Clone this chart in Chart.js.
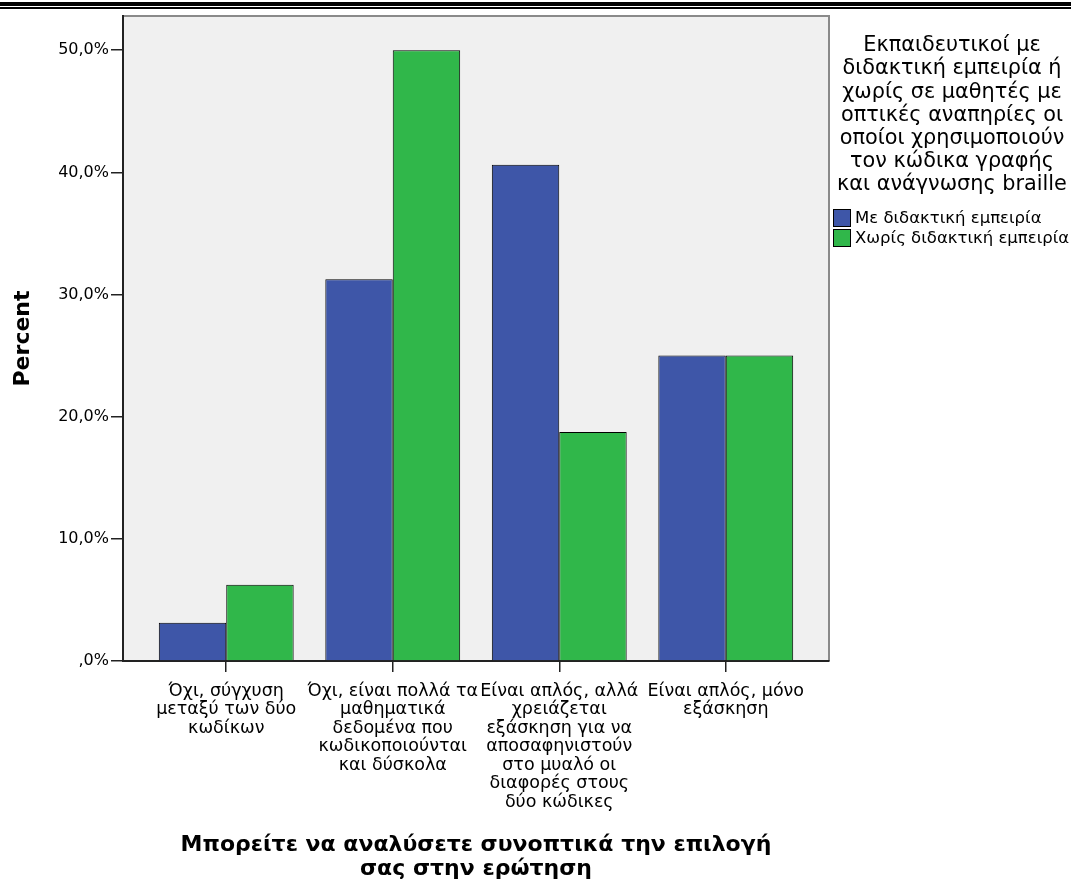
<!DOCTYPE html>
<html>
<head>
<meta charset="utf-8">
<script src="https://cdn.jsdelivr.net/npm/chart.js@4.4.1/dist/chart.umd.min.js"></script>
<style>
  html, body { margin: 0; padding: 0; background: #fff; }
  #wrap { position: relative; width: 1071px; height: 884px; }
  .rule { position: absolute; left: 0; width: 1071px; background: #000; }
</style>
</head>
<body>
<div id="wrap">
  <div class="rule" style="top:2px;height:4px"></div>
  <div class="rule" style="top:7px;height:2px"></div>
  <canvas id="chart" width="1071" height="884"></canvas>
</div>
<script>
// categories (x axis), split into lines as in the picture
const CATEGORIES = [
  ['Όχι, σύγχυση', 'μεταξύ των δύο', 'κωδίκων'],
  ['Όχι, είναι πολλά τα', 'μαθηματικά', 'δεδομένα που', 'κωδικοποιούνται', 'και δύσκολα'],
  ['Είναι απλός, αλλά', 'χρειάζεται', 'εξάσκηση για να', 'αποσαφηνιστούν', 'στο μυαλό οι', 'διαφορές στους', 'δύο κώδικες'],
  ['Είναι απλός, μόνο', 'εξάσκηση']
];
const WITH_EXPERIENCE = [3.125, 31.25, 40.625, 25];
const WITHOUT_EXPERIENCE = [6.25, 50, 18.75, 25];
const SERIES_LABELS = ['Με διδακτική εμπειρία', 'Χωρίς διδακτική εμπειρία'];
const Y_TICKS = [0, 10, 20, 30, 40, 50];
const LEGEND_TITLE = [
  'Εκπαιδευτικοί με', 'διδακτική εμπειρία ή', 'χωρίς σε μαθητές με',
  'οπτικές αναπηρίες οι', 'οποίοι χρησιμοποιούν', 'τον κώδικα γραφής',
  'και ανάγνωσης braille'
];
const X_TITLE = ['Μπορείτε να αναλύσετε συνοπτικά την επιλογή', 'σας στην ερώτηση'];
const Y_TITLE = 'Percent';

const FONT = '"DejaVu Sans", Verdana, sans-serif';

function toPoints(values) {
  return values.map((v, i) => ({ x: i, y: v }));
}

// grey plot background + top/right frame
const plotFrame = {
  id: 'plotFrame',
  beforeDraw(chart) {
    const { ctx, chartArea: a } = chart;
    ctx.save();
    ctx.fillStyle = '#f0f0f0';
    ctx.fillRect(a.left, a.top, a.right - a.left, a.bottom - a.top);
    ctx.strokeStyle = '#8a8a8a';
    ctx.lineWidth = 2;
    ctx.beginPath();
    ctx.moveTo(a.left, a.top);
    ctx.lineTo(a.right, a.top);
    ctx.lineTo(a.right, a.bottom);
    ctx.stroke();
    ctx.restore();
  }
};

// legend on the right, with a wrapped title
const sideLegend = {
  id: 'sideLegend',
  afterDraw(chart) {
    const ctx = chart.ctx;
    ctx.save();
    ctx.fillStyle = '#000';
    ctx.font = '20.8px ' + FONT;
    ctx.textAlign = 'center';
    ctx.textBaseline = 'middle';
    LEGEND_TITLE.forEach((line, i) => ctx.fillText(line, 952, 46 + i * 23.1));
    ctx.font = '16.5px ' + FONT;
    ctx.textAlign = 'left';
    chart.data.datasets.forEach((ds, i) => {
      const y = 209 + i * 20;
      ctx.fillStyle = ds.backgroundColor;
      ctx.fillRect(833, y, 18, 18);
      ctx.strokeStyle = '#000';
      ctx.lineWidth = 1;
      ctx.strokeRect(833.5, y + 0.5, 17, 17);
      ctx.fillStyle = '#000';
      ctx.fillText(ds.label, 855, y + 9.5);
    });
    ctx.restore();
  }
};

new Chart(document.getElementById('chart'), {
  type: 'bar',
  data: {
    datasets: [
      {
        label: SERIES_LABELS[0],
        data: toPoints(WITH_EXPERIENCE),
        backgroundColor: '#3e56a8',
        borderColor: '#000',
        borderWidth: 1
      },
      {
        label: SERIES_LABELS[1],
        data: toPoints(WITHOUT_EXPERIENCE),
        backgroundColor: '#30b74a',
        borderColor: '#000',
        borderWidth: 1
      }
    ]
  },
  options: {
    responsive: false,
    animation: false,
    categoryPercentage: 0.81,
    barPercentage: 1,
    layout: { padding: { top: 16, right: 242, bottom: 0, left: 0 } },
    plugins: {
      legend: { display: false },
      tooltip: { enabled: false }
    },
    scales: {
      x: {
        type: 'linear',
        min: -0.62,
        max: 3.62,
        offset: false,
        afterBuildTicks(scale) { scale.ticks = [0, 1, 2, 3].map(v => ({ value: v })); },
        afterFit(scale) { scale.height = 223; },
        border: { display: true, color: '#222', width: 2 },
        grid: { offset: false, drawOnChartArea: false, drawTicks: true, tickLength: 11, color: '#222', lineWidth: 1.5 },
        ticks: {
          autoSkip: false,
          maxRotation: 0,
          padding: 10,
          color: '#000',
          font: { family: FONT, size: 17.5, lineHeight: 18.5 / 17.5 },
          callback: v => CATEGORIES[v]
        },
        title: {
          display: true,
          text: X_TITLE,
          color: '#000',
          font: { family: FONT, size: 22, weight: 'bold', lineHeight: 24 / 22 },
          padding: { top: 0, bottom: 3 }
        }
      },
      y: {
        min: 0,
        max: 52.8,
        afterBuildTicks(scale) { scale.ticks = Y_TICKS.map(v => ({ value: v })); },
        afterFit(scale) { scale.width = 123; },
        border: { display: true, color: '#222', width: 2 },
        grid: { drawOnChartArea: false, drawTicks: true, tickLength: 12, color: '#222', lineWidth: 1.5 },
        ticks: {
          padding: 2,
          color: '#000',
          font: { family: FONT, size: 16 },
          callback: v => (v === 0 ? ',0' : v.toFixed(1).replace('.', ',')) + '%'
        },
        title: {
          display: true,
          text: Y_TITLE,
          color: '#000',
          font: { family: FONT, size: 22, weight: 'bold' },
          padding: { top: 10, bottom: 0 }
        }
      }
    }
  },
  plugins: [plotFrame, sideLegend]
});
</script>
</body>
</html>
